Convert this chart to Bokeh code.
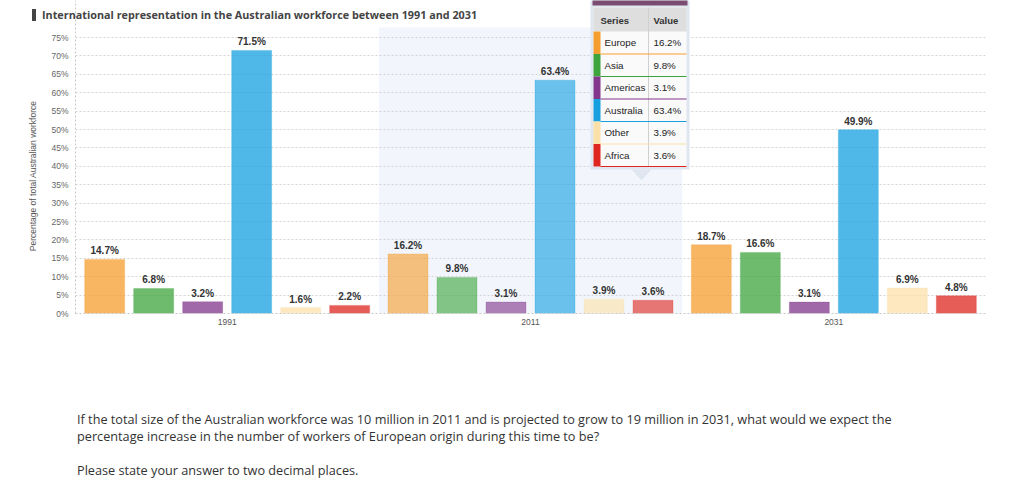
from bokeh.plotting import figure
from bokeh.models import (ColumnDataSource, FixedTicker, PrintfTickFormatter,
                          Div, Range1d)
from bokeh.layouts import column
from bokeh.core.properties import value
from bokeh.embed import file_html
from bokeh.resources import INLINE

# ---------------- data ----------------
years = ["1991", "2011", "2031"]
series = ["Europe", "Asia", "Americas", "Australia", "Other", "Africa"]
v1991 = [14.7, 6.8, 3.2, 71.5, 1.6, 2.2]
v2011 = [16.2, 9.8, 3.1, 63.4, 3.9, 3.6]
v2031 = [18.7, 16.6, 3.1, 49.9, 6.9, 4.8]
y_ticks = list(range(0, 80, 5))
hover_year = "2011"
title_text = "International representation in the Australian workforce between 1991 and 2031"
y_label = "Percentage of total Australian workforce"

colors = ["#f59d2f", "#3da43d", "#82368c", "#16a0e0", "#fce0aa", "#de261f"]

# ------------- geometry helpers (page pixels -> data) -------------
PX_L, PX_R = 75, 985
PX_0, PX_75 = 313, 37
PX_TOP = 0


def dx(px):
    return (px - PX_L) / (PX_R - PX_L) * len(years)


def dy(py):
    return (PX_0 - py) / (PX_0 - PX_75) * 75


Y_END = dy(PX_TOP)
STEP = 49 / 303.33
BAR_W = 40 / 303.33

values = {"1991": v1991, "2011": v2011, "2031": v2031}
xs, vs, cs, als, labels = [], [], [], [], []
for gi, yr in enumerate(years):
    for j, s in enumerate(series):
        xs.append(gi + 0.5 + (j - (len(series) - 1) / 2) * STEP)
        vs.append(values[yr][j])
        cs.append(colors[j])
        als.append(0.62 if yr == hover_year else 0.75)
        labels.append(f"{values[yr][j]:.1f}%")
src = ColumnDataSource(dict(x=xs, v=vs, color=cs, alpha=als, label=labels))

BORDER_BOTTOM = 35
FIG_H = PX_0 - PX_TOP + BORDER_BOTTOM
p = figure(width=1010, height=FIG_H,
           x_range=Range1d(0, len(years)),
           y_range=Range1d(0, Y_END), output_backend="svg",
           toolbar_location=None, title=None,
           min_border_left=PX_L, min_border_right=1010 - PX_R,
           min_border_top=0, min_border_bottom=BORDER_BOTTOM)
p.outline_line_color = None
p.background_fill_color = "white"
p.border_fill_color = "white"

# hover band
hi = years.index(hover_year)
p.quad(left=hi, right=hi + 1, top=dy(27), bottom=0, fill_color="#f2f6fc",
       line_color=None, level="image")

# axes
p.xgrid.visible = False
p.yaxis.ticker = FixedTicker(ticks=y_ticks)
p.yaxis.formatter = PrintfTickFormatter(format="%d%%")
p.yaxis.major_tick_line_color = None
p.yaxis.major_tick_out = 0
p.yaxis.minor_tick_line_color = None
p.yaxis.axis_line_color = "#c8c8c8"
p.yaxis.axis_line_dash = "2 2"
p.yaxis.major_label_text_font = "Liberation Sans"
p.yaxis.major_label_text_font_size = "8.5px"
p.yaxis.major_label_text_color = "#666666"
p.yaxis.major_label_standoff = 7
# trailing no-break spaces shift the centred label down to the 0-75% span
p.yaxis.axis_label = y_label + "\u00a0" * 16
p.yaxis.axis_label_text_font = "Liberation Sans"
p.yaxis.axis_label_text_font_size = "8.5px"
p.yaxis.axis_label_text_font_style = "normal"
p.yaxis.axis_label_text_color = "#555555"
p.yaxis.axis_label_standoff = 10
p.ygrid.grid_line_color = "#d4d4d4"
p.ygrid.grid_line_dash = "2 2"

p.xaxis.ticker = FixedTicker(ticks=[i + 0.5 for i in range(len(years))])
p.xaxis.major_label_overrides = {i + 0.5: y for i, y in enumerate(years)}
p.xaxis.major_tick_line_color = None
p.xaxis.major_tick_out = 0
p.xaxis.minor_tick_line_color = None
p.xaxis.axis_line_color = "#c8c8c8"
p.xaxis.axis_line_dash = "2 2"
p.xaxis.major_label_text_font = "Liberation Sans"
p.xaxis.major_label_text_font_size = "8.5px"
p.xaxis.major_label_text_color = "#555555"
p.xaxis.major_label_standoff = 5

# bars
p.vbar(x="x", top="v", bottom=0, width=BAR_W, fill_color="color",
       fill_alpha="alpha", line_color="color", line_alpha=0.25, source=src)
p.text(x="x", y="v", text="label", text_align="center", text_baseline="bottom",
       y_offset=-3, text_font=value("Liberation Sans"), text_font_style="bold",
       text_font_size="10px", text_color="#333333", source=src)

# ---------------- tooltip (frozen hover) ----------------
TL, TR = 590, 689
p.quad(left=dx(TL), right=dx(TR), top=dy(-10), bottom=dy(169),
       fill_color="#e0e6f0", line_color=None)
p.patch(x=[dx(631), dx(651), dx(641)], y=[dy(169), dy(169), dy(180)],
        fill_color="#e0e6f0", line_color=None)
p.quad(left=dx(592), right=dx(687), top=dy(-10), bottom=dy(5),
       fill_color="#7a4d70", line_color=None)
p.quad(left=dx(593), right=dx(686), top=dy(7), bottom=dy(166),
       fill_color="#fafafa", line_color=None)
p.quad(left=dx(593), right=dx(686), top=dy(7), bottom=dy(31),
       fill_color="#dedede", line_color=None)
p.segment(x0=dx(648), x1=dx(648), y0=dy(7), y1=dy(166), line_color="#d0d0d0",
          line_width=1)
p.text(x=[dx(600), dx(653)], y=[dy(20), dy(20)], text=["Series", "Value"],
       text_baseline="middle", text_font=value("Liberation Sans"),
       text_font_style="bold", text_font_size="9.5px", text_color="#333333")

ROW_H = 22.5
tops = [31 + ROW_H * i for i in range(len(series))]
bots = [t + ROW_H for t in tops]
mids = [t + ROW_H / 2 for t in tops]
tsrc = ColumnDataSource(dict(
    l=[dx(593)] * len(series), r=[dx(600)] * len(series),
    t=[dy(t) for t in tops], b=[dy(b) for b in bots],
    ym=[dy(m) for m in mids],
    xn=[dx(604)] * len(series), xv=[dx(653)] * len(series),
    x0=[dx(600)] * len(series), x1=[dx(686)] * len(series),
    name=series, val=[f"{v:.1f}%" for v in values[hover_year]],
    color=colors))
p.quad(left="l", right="r", top="t", bottom="b", fill_color="color",
       line_color=None, source=tsrc)
p.segment(x0="x0", x1="x1", y0="b", y1="b", line_color="color",
          line_width=1.2, source=tsrc)
p.text(x="xn", y="ym", text="name", text_baseline="middle",
       text_font=value("Liberation Sans"), text_font_size="9.8px",
       text_color="#222222", source=tsrc)
p.text(x="xv", y="ym", text="val", text_baseline="middle",
       text_font=value("Liberation Sans"), text_font_size="9.8px",
       text_color="#222222", source=tsrc)

# ---------------- title (HTML overlaid on the top-left border) ----------------
TITLE_H = 30
title_div = Div(
    text=("<div style=\"position:relative;z-index:5;height:30px;width:600px\">"
          "<div style=\"position:absolute;left:32px;top:9px;width:4px;height:12px;background:#444\"></div>"
          "<div style=\"position:absolute;left:42px;top:6px;font-family:'Open Sans';font-weight:bold;"
          "font-size:10.8px;line-height:18px;color:#444;white-space:nowrap\">"
          + title_text + "</div></div>"),
    width=600, height=TITLE_H, margin=(-FIG_H, 0, 0, 0))

question = Div(
    text=("<div style=\"font-family:'Open Sans';font-size:12.7px;color:#333;line-height:17px;white-space:nowrap\">"
          "If the total size of the Australian workforce was 10 million in 2011 and is projected to grow to "
          "19 million in 2031, what would we expect the<br>"
          "percentage increase in the number of workers of European origin during this time to be?"
          "<div style='margin-top:17px'>Please state your answer to two decimal places.</div></div>"),
    width=900, margin=(411 - TITLE_H, 0, 0, 77))

layout = column(p, title_div, question)
open("out.html", "w").write(file_html(layout, INLINE))
